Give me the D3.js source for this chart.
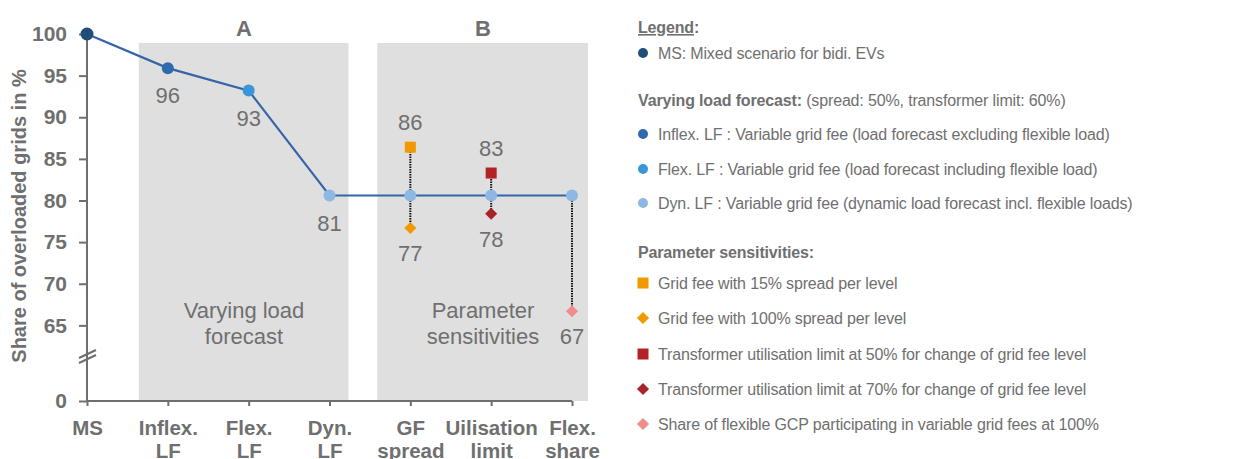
<!DOCTYPE html>
<html><head><meta charset="utf-8">
<script src="https://cdn.jsdelivr.net/npm/d3@7"></script>
<style>
html,body{margin:0;padding:0;background:#fff;}
svg text{font-family:"Liberation Sans",Arial,sans-serif;}
</style></head>
<body><svg id="c" width="1260" height="459"></svg>
<script>
// ---- data ----
const categories = ["MS","Inflex. LF","Flex. LF","Dyn. LF","GF spread","Uilisation limit","Flex. share"];
const categoryLines = [["MS"],["Inflex.","LF"],["Flex.","LF"],["Dyn.","LF"],["GF","spread"],["Uilisation","limit"],["Flex.","share"]];
const mainValues = [100, 95.9, 93.2, 80.6, 80.6, 80.6, 80.6];
const mainLabels = [null, "96", "93", "81", null, null, null];
const mainColors = ["#1f4e79","#2e6aad","#3a96d8","#8db8e4","#8db8e4","#8db8e4","#8db8e4"];
const sensCategory = ["GF spread","GF spread","Uilisation limit","Uilisation limit","Flex. share"];
const sensValues = [86.4, 76.7, 83.3, 78.4, 66.7];
const sensLabels = ["86","77","83","78","67"];
const sensShapes = ["square","diamond","square","diamond","diamond"];
const sensColors = ["#f09a00","#f09a00","#b22226","#a8242a","#f08c8c"];
const yTicks = [0,65,70,75,80,85,90,95,100];
const panels = [
  {label:"A", from:"Inflex. LF", to:"Dyn. LF", text:["Varying load","forecast"]},
  {label:"B", from:"GF spread", to:"Flex. share", text:["Parameter","sensitivities"]}
];
const legendMain = [
  {name:"MS: Mixed scenario for bidi. EVs", color:"#1f4e79"}
];
const legendLF = [
  {name:"Inflex. LF : Variable grid fee (load forecast excluding  flexible load)", color:"#2e6aad"},
  {name:"Flex. LF : Variable grid fee (load forecast including  flexible load)", color:"#3a96d8"},
  {name:"Dyn. LF : Variable grid fee (dynamic load forecast incl. flexible  loads)", color:"#8db8e4"}
];
const legendSens = [
  {name:"Grid fee with 15% spread per level", shape:"square", color:"#f09a00"},
  {name:"Grid fee with 100% spread per level", shape:"diamond", color:"#f09a00"},
  {name:"Transformer  utilisation  limit at 50% for change of grid fee level", shape:"square", color:"#b22226"},
  {name:"Transformer utilisation  limit at 70% for change of grid fee level", shape:"diamond", color:"#a8242a"},
  {name:"Share of flexible GCP  participating  in variable grid fees at 100%", shape:"diamond", color:"#f08c8c"}
];

// ---- chart ----
const svg = d3.select("#c");
const gray = "#6f6f6f";
const x = d3.scalePoint().domain(categories).range([87, 572]);
const y = d3.scaleLinear().domain([0, 60, 100]).range([401, 367, 34]);

// panels
const panelPad = [[29, 19], [33, 16]];
panels.forEach((p, k) => {
  const x0 = x(p.from) - panelPad[k][0], x1 = x(p.to) + panelPad[k][1];
  svg.append("rect").attr("x", x0).attr("y", 43).attr("width", x1 - x0).attr("height", 401 - 43).attr("fill", "#dfdfdf");
  const cx = k === 0 ? 244 : 483;
  svg.append("text").attr("x", cx).attr("y", 36).attr("text-anchor", "middle")
    .attr("font-size", 22).attr("font-weight", "bold").attr("fill", gray).text(p.label);
  p.text.forEach((t, i) => svg.append("text").attr("x", cx).attr("y", 318 + i * 26)
    .attr("text-anchor", "middle").attr("font-size", 22).attr("fill", gray).text(t));
});

// axes
const yAxis = svg.append("g").attr("transform", "translate(87,0)")
  .call(d3.axisLeft(y).tickValues(yTicks).tickSize(8).tickSizeOuter(0).tickPadding(12));
yAxis.select(".domain").attr("stroke", gray).attr("stroke-width", 2).attr("d", "M0,34V401");
yAxis.selectAll(".tick line").attr("stroke", gray).attr("stroke-width", 2);
yAxis.selectAll(".tick text").attr("font-size", 21).attr("font-weight", "bold").attr("fill", gray)
  .attr("font-family", "Liberation Sans, Arial");

const xAxis = svg.append("g").attr("transform", "translate(0,401)")
  .call(d3.axisBottom(x).tickSize(5).tickSizeOuter(0).tickFormat(""));
xAxis.select(".domain").attr("stroke", gray).attr("stroke-width", 2).attr("d", "M87,0H572");
xAxis.selectAll(".tick line").attr("stroke", gray).attr("stroke-width", 2);
xAxis.selectAll(".tick").each(function(d, i) {
  const t = d3.select(this).append("text").attr("text-anchor", "middle").attr("fill", gray)
    .attr("font-size", 20.5).attr("font-weight", "bold").attr("font-family", "Liberation Sans, Arial");
  categoryLines[i].forEach((l, j) => t.append("tspan").attr("x", 0).attr("y", 34 + j * 23).text(l));
});

// axis break
[0, 5].forEach(o => {
  svg.append("line").attr("x1", 79).attr("y1", 363 - o).attr("x2", 96).attr("y2", 355 - o)
    .attr("stroke", gray).attr("stroke-width", 2);
});

svg.append("text").attr("transform", "translate(26,216) rotate(-90)").attr("text-anchor", "middle")
  .attr("font-size", 20).attr("font-weight", "bold").attr("fill", gray).text("Share of overloaded grids in %");

// dotted connectors
sensCategory.forEach((c, i) => {
  const base = mainValues[categories.indexOf(c)];
  svg.append("line").attr("x1", x(c)).attr("x2", x(c)).attr("y1", y(base)).attr("y2", y(sensValues[i]))
    .attr("stroke", "#111").attr("stroke-width", 2).attr("stroke-dasharray", "1.5,1");
});

// main line
svg.append("path").datum(mainValues)
  .attr("d", d3.line().x((d, i) => x(categories[i])).y(d => y(d)))
  .attr("fill", "none").attr("stroke", "#3565a8").attr("stroke-width", 2.2);

svg.selectAll(".mp").data(mainValues).enter().append("circle")
  .attr("cx", (d, i) => x(categories[i])).attr("cy", d => y(d))
  .attr("r", (d, i) => i === 0 ? 6.5 : 6).attr("fill", (d, i) => mainColors[i]);

mainValues.forEach((v, i) => {
  if (!mainLabels[i]) return;
  svg.append("text").attr("x", x(categories[i])).attr("y", y(v) + 35).attr("text-anchor", "middle")
    .attr("font-size", 22).attr("fill", gray).text(mainLabels[i]);
});

function marker(sel, shape, cx, cy, color, s) {
  if (shape === "square") {
    sel.append("rect").attr("x", cx - s / 2).attr("y", cy - s / 2).attr("width", s).attr("height", s).attr("fill", color);
  } else {
    const h = s * 0.55;
    sel.append("path").attr("d", `M${cx},${cy - h}L${cx + h},${cy}L${cx},${cy + h}L${cx - h},${cy}Z`).attr("fill", color);
  }
}
sensValues.forEach((v, i) => {
  const cx = x(sensCategory[i]), cy = y(v);
  marker(svg, sensShapes[i], cx, cy, sensColors[i], 11);
  const above = sensShapes[i] === "square";
  svg.append("text").attr("x", cx).attr("y", above ? cy - 17 : cy + 33).attr("text-anchor", "middle")
    .attr("font-size", 22).attr("fill", gray).text(sensLabels[i]);
});

// ---- legend ----
const L = svg.append("g");
const lx = 643, tx = 658, fs = 16, ls = "-0.15px";
const lt = L.append("text").attr("x", 638).attr("y", 33).attr("font-size", fs).attr("font-weight", "bold").attr("fill", gray).attr("letter-spacing", ls);
lt.append("tspan").attr("text-decoration", "underline").text("Legend");
lt.append("tspan").text(":");
legendMain.forEach(d => {
  L.append("circle").attr("cx", lx).attr("cy", 53).attr("r", 5).attr("fill", d.color);
  L.append("text").attr("x", tx).attr("y", 59).attr("font-size", fs).attr("fill", gray).attr("letter-spacing", ls).text(d.name);
});
const h2 = L.append("text").attr("x", 638).attr("y", 106).attr("font-size", fs).attr("fill", gray).attr("letter-spacing", ls);
h2.append("tspan").attr("font-weight", "bold").text("Varying load forecast: ");
h2.append("tspan").text("(spread: 50%, transformer  limit: 60%)");
const lfY = [134, 169, 203];
legendLF.forEach((d, i) => {
  L.append("circle").attr("cx", lx).attr("cy", lfY[i]).attr("r", 5).attr("fill", d.color);
  L.append("text").attr("x", tx).attr("y", lfY[i] + 6).attr("font-size", fs).attr("fill", gray).attr("letter-spacing", ls).text(d.name);
});
L.append("text").attr("x", 638).attr("y", 258).attr("font-size", fs).attr("font-weight", "bold").attr("fill", gray)
  .attr("letter-spacing", ls).text("Parameter sensitivities:");
const psY = [283, 318, 354, 389, 424];
legendSens.forEach((d, i) => {
  marker(L, d.shape, lx, psY[i], d.color, 11);
  L.append("text").attr("x", tx).attr("y", psY[i] + 6).attr("font-size", fs).attr("fill", gray).attr("letter-spacing", ls).text(d.name);
});
</script></body></html>
